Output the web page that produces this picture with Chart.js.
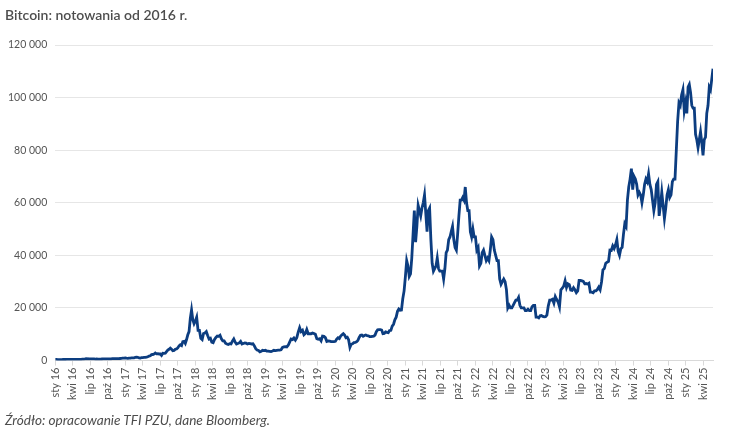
<!DOCTYPE html>
<html lang="pl">
<head>
<meta charset="utf-8">
<script src="https://cdn.jsdelivr.net/npm/chart.js@4.4.1/dist/chart.umd.min.js"></script>
<style>
  html, body { margin:0; padding:0; background:#fff; }
  #wrap { position:relative; width:731px; height:433px; overflow:hidden; }
  #title { position:absolute; left:5px; top:6px; font-family:Lato, "Noto Sans", sans-serif; font-size:14px; color:#4d4d4d; font-weight:600; }
  #src { position:absolute; left:5px; top:412px; font-family:Lato, "Noto Sans", sans-serif; font-size:13.6px; font-style:italic; color:#4d4d4d; }
  #c { position:absolute; left:0; top:0; }
</style>
</head>
<body>
<div id="wrap">
  <canvas id="c" width="731" height="433"></canvas>
  <div id="title">Bitcoin: notowania od 2016 r.</div>
  <div id="src">Źródło: opracowanie TFI PZU, dane Bloomberg.</div>
</div>
<script>
// Weekly Bitcoin prices (USD)
const p2016 = [430,445,385,390, 372,380,400,420, 410,415,412,415,420, 420,425,430,450, 452,458,455,445,530, 575,610,750,680,670, 675,650,660,655, 580,590,575,580,575, 600,610,605,605, 610,620,640,655,700, 710,715,740,735, 765,780,790,890,960];
const p2017 = [1000,900,830,920,920, 1010,1000,1050,1180, 1270,1230,1000,960,1080, 1140,1180,1210,1270, 1450,1700,1800,2250,2300, 2500,2900,2550,2600, 2500,2500,1950,2750,2700, 2800,3400,4000,4300, 4700,4300,3700,3800,4300, 4400,4800,5600,6000,5700, 7200,7300,6500,8000,9800, 11000,16000,19200,15500,14000];
const p2018 = [15000,16500,11500,11500, 8500,8000,10300,10500, 11000,9500,8200,8500,7000, 6800,8000,8800,9300, 9200,9600,8300,7500, 7500,6600,6300,6100, 6400,6300,7400,8200, 7000,6300,6500,6700, 7300,6300,6500,6700, 6600,6300,6500,6400,6300, 6400,5600,4500,4000, 3800,3300,3500,3900,3800];
const p2019 = [3900,3600,3600,3500, 3400,3600,3900,3800, 3900,3950,4000,4100, 5000,5200,5300,5200, 5800,7000,8200,8000,8600, 7800,8700,10800,12500, 11000,11500,9800,10300, 11800,10200,10200,10200, 10500,10300,10000,8300, 8100,8300,7500,9300, 9200,8700,7300,7500, 7400,7200,7200,7200];
const p2020 = [7300,8200,8700,8400,9300, 9800,10200,9700,8700, 8900,7900,5000,6200,6400, 6800,6900,7100,7600, 8800,9600,9700,9200,9500, 9700,9500,9400,9100, 9100,9200,9300,9700,11000, 11700,11800,11800,11600, 10200,10300,10900,10700, 10600,11400,11500,13100, 13800,15500,16500,18700,19600, 19100,19200,23500,26500];
const p2021 = [32000,38000,36000,32000,33000, 39000,48000,57000,45000, 51000,59000,57000,55000, 58000,60000,63000,56000,49000, 57000,58000,46000,37000,34000,35000, 36000,39000,35000,34000, 34000,34000,31000,35000,41000, 42000,46000,47000,49000, 51000,46000,43000,42000, 48000,55000,61000,61000,62000, 61000,66000,60000,57000, 57000,49000,47000,50000,47000];
const p2022 = [47000,42000,43000,36000,37000, 41000,42000,40000,38000, 39000,38000,42000,47000, 46000,42000,40000,38000, 38000,31000,29000,30000,31000, 30000,27000,20000,21000,20000, 20000,21000,22000,23000, 23000,24000,21000,20000, 20000,20000,19000,19000, 19500,19000,19000,20500,21000, 21000,16500,16500,16200, 17000,17100,16800,16600];
const p2023 = [16700,17300,20800,23000,23000, 23300,21800,24300,23200, 22300,20400,26900,27500, 28300,30300,27800,29200, 28900,26800,26700,27700, 26900,25800,26500,30500, 30500,30300,30100,29200,29300, 29100,29400,26000,26000, 25800,26500,26500,27000, 27900,26900,29900,34500, 35000,37000,37400,37700, 42000,41900,43600,42600];
const p2024 = [44000,46000,41500,40000,42500, 43000,48000,52000,51000,61000, 66000,69000,73000,65000,70000, 69000,67000,63000,64000,63000, 60000,63000,67000,69000,68000, 71000,67000,65000,61000, 57000,60000,67000,68000, 55000,59000,64000,59000, 54000,58000,63000,65000, 62000,63000,68000,69000, 69000,80000,91000,98000, 97000,101000,103000,95000];
const p2025 = [98000,94000,104000,105000,102000, 97000,96000,96000,86000, 84000,81000,84000,87000, 83000,78000,84000,85000,94000, 97000,104000,103000,107000,111000];
const p2025Months = 4.7; // months of 2025 covered by the series

const monthNames = ['sty','kwi','lip','paź'];
const tickStepMonths = 3;
const yTicks = [0, 20000, 40000, 60000, 80000, 100000, 120000];

const fullYears = [p2016,p2017,p2018,p2019,p2020,p2021,p2022,p2023,p2024];
const points = [];
fullYears.forEach((arr, k) => {
  arr.forEach((v, i) => points.push({ x: k * 12 + i * 12 / arr.length, y: v }));
});
p2025.forEach((v, i) => points.push({ x: 108 + i * p2025Months / (p2025.length - 1), y: v }));
const xMax = 108 + p2025Months;

const fmt = v => String(v).replace(/\B(?=(\d{3})+(?!\d))/g, ' ');
const FONT = 'Lato, "Noto Sans", sans-serif';

new Chart(document.getElementById('c'), {
  type: 'line',
  data: {
    datasets: [{
      data: points,
      borderColor: '#0c3d80',
      borderWidth: 2.8,
      pointRadius: 0,
      tension: 0,
      fill: false
    }]
  },
  options: {
    responsive: false,
    animation: false,
    layout: { padding: { top: 45, left: 0, right: 18, bottom: 31 } },
    plugins: { legend: { display: false }, tooltip: { enabled: false } },
    scales: {
      x: {
        type: 'linear',
        min: 0,
        max: xMax,
        afterBuildTicks: axis => {
          const t = [];
          for (let v = 0; v <= xMax; v += tickStepMonths) t.push({ value: v });
          axis.ticks = t;
        },
        ticks: {
          autoSkip: false,
          maxRotation: 90,
          minRotation: 90,
          padding: 2,
          color: '#555',
          font: { family: FONT, size: 11 },
          callback: v => monthNames[(v / 3) % 4] + ' ' + (16 + Math.floor(v / 12))
        },
        grid: { drawOnChartArea: false, drawTicks: true, tickLength: 5, color: '#d9d9d9' },
        border: { display: true, color: '#d9d9d9' }
      },
      y: {
        min: 0,
        max: 120000,
        afterBuildTicks: axis => { axis.ticks = yTicks.map(v => ({ value: v })); },
        ticks: {
          padding: 8,
          color: '#555',
          font: { family: FONT, size: 10.5 },
          callback: v => fmt(v)
        },
        grid: { color: '#e6e6e6', drawTicks: false },
        border: { display: false }
      }
    }
  }
});
</script>
</body>
</html>
